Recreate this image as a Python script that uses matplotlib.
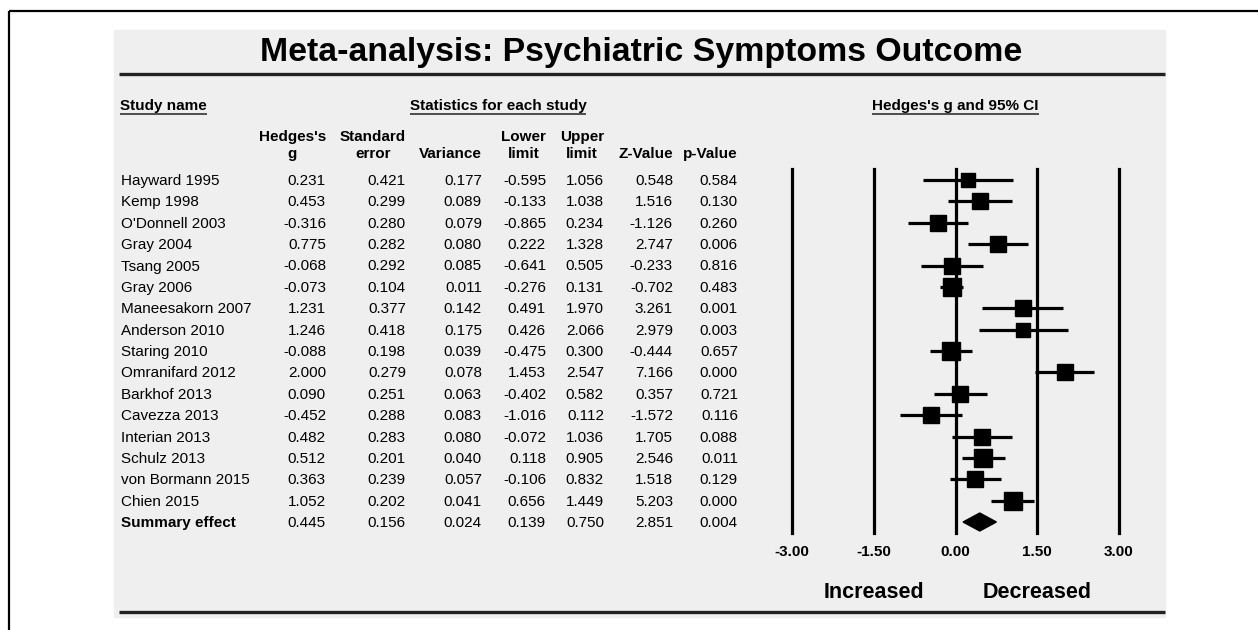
import numpy as np
import matplotlib
matplotlib.use('Agg')
import matplotlib.pyplot as plt
from matplotlib.patches import Rectangle, Polygon

plt.rcParams['font.family'] = ['Liberation Sans', 'DejaVu Sans']

studies = ['Hayward 1995', 'Kemp 1998', "O'Donnell 2003", 'Gray 2004', 'Tsang 2005',
           'Gray 2006', 'Maneesakorn 2007', 'Anderson 2010', 'Staring 2010',
           'Omranifard 2012', 'Barkhof 2013', 'Cavezza 2013', 'Interian 2013',
           'Schulz 2013', 'von Bormann 2015', 'Chien 2015']
hedges_g = [0.231, 0.453, -0.316, 0.775, -0.068, -0.073, 1.231, 1.246, -0.088,
            2.000, 0.090, -0.452, 0.482, 0.512, 0.363, 1.052]
std_err = [0.421, 0.299, 0.280, 0.282, 0.292, 0.104, 0.377, 0.418, 0.198,
           0.279, 0.251, 0.288, 0.283, 0.201, 0.239, 0.202]
variance = [0.177, 0.089, 0.079, 0.080, 0.085, 0.011, 0.142, 0.175, 0.039,
            0.078, 0.063, 0.083, 0.080, 0.040, 0.057, 0.041]
lower = [-0.595, -0.133, -0.865, 0.222, -0.641, -0.276, 0.491, 0.426, -0.475,
         1.453, -0.402, -1.016, -0.072, 0.118, -0.106, 0.656]
upper = [1.056, 1.038, 0.234, 1.328, 0.505, 0.131, 1.970, 2.066, 0.300,
         2.547, 0.582, 0.112, 1.036, 0.905, 0.832, 1.449]
z_value = [0.548, 1.516, -1.126, 2.747, -0.233, -0.702, 3.261, 2.979, -0.444,
           7.166, 0.357, -1.572, 1.705, 2.546, 1.518, 5.203]
p_value = [0.584, 0.130, 0.260, 0.006, 0.816, 0.483, 0.001, 0.003, 0.657,
           0.000, 0.721, 0.116, 0.088, 0.011, 0.129, 0.000]

# summary effect row
summary = [0.445, 0.156, 0.024, 0.139, 0.750, 2.851, 0.004]

col_headers = ["Hedges's\ng", 'Standard\nerror', 'Variance', 'Lower\nlimit',
               'Upper\nlimit', 'Z-Value', 'p-Value']
axis_ticks = [-3.0, -1.5, 0.0, 1.5, 3.0]

W, H = 1258, 630
fig = plt.figure(figsize=(W / 100, H / 100), dpi=100)
bg = fig.add_axes([0, 0, 1, 1])
bg.set_xlim(0, W)
bg.set_ylim(H, 0)
bg.axis('off')

# frame + grey panel
bg.plot([9, W], [11, 11], color='black', lw=1.6, solid_capstyle='butt')
bg.plot([9, 9], [11, H], color='black', lw=1.6, solid_capstyle='butt')
bg.add_patch(Rectangle((114, 30), 1165 - 114, 617 - 30, color='#efefef', zorder=0))
bg.plot([119, 1165], [74, 74], color='#222222', lw=2.4, solid_capstyle='butt')
bg.plot([119, 1165], [612, 612], color='#222222', lw=2.4, solid_capstyle='butt')

bg.text(641, 52, 'Meta-analysis: Psychiatric Symptoms Outcome', ha='center', va='center',
        fontsize=24.4, fontweight='bold')

fs = 11
row0, dy = 181, 21.375
col_x = [326, 406, 482, 546, 604, 673, 738]

heads = [bg.text(120, 106, 'Study name', ha='left', va='center', fontsize=fs, fontweight='bold'),
         bg.text(498, 106, 'Statistics for each study', ha='center', va='center', fontsize=fs, fontweight='bold'),
         bg.text(955.5, 106, "Hedges's g and 95% CI", ha='center', va='center', fontsize=fs, fontweight='bold')]

for x, h in zip(col_x, col_headers):
    bg.text(x, 161, h, ha='right', va='bottom', fontsize=fs, fontweight='bold',
            multialignment='center', linespacing=1.3)

cols = [hedges_g, std_err, variance, lower, upper, z_value, p_value]
for i, name in enumerate(studies):
    y = row0 + dy * i
    bg.text(121, y, name, ha='left', va='center', fontsize=fs)
    for x, c in zip(col_x, cols):
        bg.text(x, y, f'{c[i]:.3f}', ha='right', va='center', fontsize=fs)
ys = row0 + dy * len(studies)
bg.text(121, ys, 'Summary effect', ha='left', va='center', fontsize=fs, fontweight='bold')
for x, v in zip(col_x, summary):
    bg.text(x, ys, f'{v:.3f}', ha='right', va='center', fontsize=fs)

# forest plot, box size from random-effects weights (DerSimonian-Laird)
g = np.array(hedges_g)
v = np.array(variance)
n = len(g)
w_fix = 1 / v
g_fix = np.sum(w_fix * g) / np.sum(w_fix)
Q = np.sum(w_fix * (g - g_fix) ** 2)
tau2 = max(0, (Q - (n - 1)) / (np.sum(w_fix) - np.sum(w_fix ** 2) / np.sum(w_fix)))
w_re = 1 / (v + tau2)
box_px = 16.3 * np.sqrt(w_re / np.mean(w_re))

top_px, bot_px = 169, 533
ax = fig.add_axes([792 / W, 1 - bot_px / H, (1119 - 792) / W, (bot_px - top_px) / H])
ax.set_xlim(-3, 3)
ax.set_ylim((bot_px - 180) / dy, (top_px - 180) / dy)
ax.patch.set_visible(False)
for s in ax.spines.values():
    s.set_visible(False)
for t in axis_ticks:
    ax.axvline(t, color='black', lw=2.3, clip_on=False, zorder=1)
rows = np.arange(n)
ax.hlines(rows, lower, upper, color='black', lw=2.3, zorder=2)
for r in rows:
    ax.plot(g[r], r, marker='s', color='black', markersize=box_px[r] * 0.72,
            linestyle='none', zorder=3)
hd = 9 / dy
ax.add_patch(Polygon([(summary[3], n), (summary[0], n - hd), (summary[4], n), (summary[0], n + hd)],
                     closed=True, color='black', zorder=3))
ax.set_xticks(axis_ticks)
ax.set_xticklabels([f'{t:.2f}' for t in axis_ticks], fontsize=fs, fontweight='bold')
ax.tick_params(axis='x', length=0, pad=9)
ax.set_yticks([])
yl = 1 - (592 - top_px) / (bot_px - top_px)
ax.text(-1.5, yl, 'Increased', transform=ax.get_xaxis_transform(),
        ha='center', va='center', fontsize=15.5, fontweight='bold')
ax.text(1.5, yl, 'Decreased', transform=ax.get_xaxis_transform(),
        ha='center', va='center', fontsize=15.5, fontweight='bold')

# underlines for section headers
fig.canvas.draw()
inv = bg.transData.inverted()
for t in heads:
    bb = t.get_window_extent()
    (x0, _), (x1, _) = inv.transform([[bb.x0, bb.y0], [bb.x1, bb.y1]])
    bg.plot([x0, x1], [114, 114], color='#222222', lw=1.1, solid_capstyle='butt')

fig.savefig('out.png', dpi=100)
